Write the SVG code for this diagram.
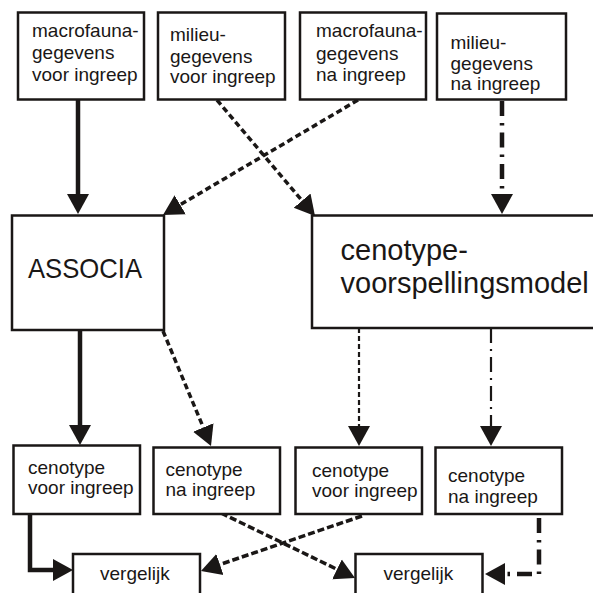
<svg xmlns="http://www.w3.org/2000/svg" width="593" height="593" viewBox="0 0 593 593">
<style>
.box{fill:#fff;stroke:#1a1716;stroke-width:2.5}
.t{font-family:"Liberation Sans",Arial,sans-serif;font-size:19px;fill:#1a1716}
.tb{font-family:"Liberation Sans",Arial,sans-serif;fill:#1a1716}
.c{fill:none;stroke:#1a1716}
.solid{stroke-width:4.5}
.dash{stroke-width:3.5;stroke-dasharray:6 3.5}
.dash2{stroke-width:3.5;stroke-dasharray:7 3}
.thindash{stroke-width:2.2;stroke-dasharray:5 3}
.dashdot{stroke-width:4.5;stroke-dasharray:15 7 2.5 7}
.thindashdot{stroke-width:2.2;stroke-dasharray:15 6 2 6}
</style>
<defs>
<marker id="ah" markerUnits="userSpaceOnUse" markerWidth="22" markerHeight="24" viewBox="0 -12 22 24" refX="0" refY="0" orient="auto">
<path d="M0,-11 L20,0 L0,11 z" fill="#1a1716"/>
</marker>
</defs>
<rect width="593" height="593" fill="#fff"/>

<g id="connectors">
<line class="c solid" x1="78" y1="100" x2="78" y2="194" marker-end="url(#ah)"/>
<line class="c dash" x1="358" y1="100" x2="180.2" y2="204.8" marker-end="url(#ah)"/>
<line class="c dash" x1="217" y1="100" x2="302.1" y2="200.7" marker-end="url(#ah)"/>
<line class="c dashdot" x1="502" y1="101" x2="502" y2="194" marker-end="url(#ah)"/>
<line class="c solid" x1="80" y1="330" x2="80" y2="425" marker-end="url(#ah)"/>
<line class="c dash" x1="163" y1="331" x2="203.3" y2="427.5" marker-end="url(#ah)"/>
<line class="c thindash" x1="359" y1="328" x2="359" y2="426" marker-end="url(#ah)"/>
<line class="c thindashdot" x1="491" y1="328" x2="491" y2="426" marker-end="url(#ah)"/>
<polyline class="c solid" points="30,514 30,570 53,570" marker-end="url(#ah)"/>
<line class="c dash2" x1="221" y1="513" x2="337" y2="569.3" marker-end="url(#ah)"/>
<line class="c dash2" x1="362" y1="516" x2="219.9" y2="564.5" marker-end="url(#ah)"/>
<polyline class="c dashdot" points="539,518 539,574 505,574" marker-end="url(#ah)"/>
</g>

<g id="macrofauna-voor">
<rect class="box" x="18" y="12.5" width="126" height="87"/>
<text class="t" x="32" y="36.5">macrofauna-</text>
<text class="t" x="32" y="59">gegevens</text>
<text class="t" x="32" y="81">voor ingreep</text>
</g>
<g id="milieu-voor">
<rect class="box" x="158" y="12.5" width="127" height="87"/>
<text class="t" x="170" y="41">milieu-</text>
<text class="t" x="170" y="62.5">gegevens</text>
<text class="t" x="170" y="83">voor ingreep</text>
</g>
<g id="macrofauna-na">
<rect class="box" x="300" y="12.5" width="126" height="87"/>
<text class="t" x="316" y="37">macrofauna-</text>
<text class="t" x="316" y="59.5">gegevens</text>
<text class="t" x="316" y="81">na ingreep</text>
</g>
<g id="milieu-na">
<rect class="box" x="437" y="13.5" width="129" height="86"/>
<text class="t" x="450.5" y="49">milieu-</text>
<text class="t" x="450.5" y="70">gegevens</text>
<text class="t" x="450.5" y="90">na ingreep</text>
</g>

<g id="associa">
<rect class="box" x="12" y="215.5" width="152" height="114.5"/>
<text class="tb" x="28" y="277.5" font-size="28" textLength="114" lengthAdjust="spacingAndGlyphs">ASSOCIA</text>
</g>
<g id="model">
<rect class="box" x="312" y="215.5" width="300" height="112.5"/>
<text class="tb" x="340.5" y="260" font-size="29">cenotype-</text>
<text class="tb" x="340.5" y="292.5" font-size="29">voorspellingsmodel</text>
</g>

<g id="ceno-voor-1">
<rect class="box" x="13.5" y="445.5" width="126.5" height="68.5"/>
<text class="t" x="28" y="474">cenotype</text>
<text class="t" x="28" y="494">voor ingreep</text>
</g>
<g id="ceno-na-1">
<rect class="box" x="153.5" y="447.5" width="126.5" height="66.5"/>
<text class="t" x="165.5" y="476">cenotype</text>
<text class="t" x="165.5" y="496">na ingreep</text>
</g>
<g id="ceno-voor-2">
<rect class="box" x="295.5" y="447.5" width="126.5" height="66.5"/>
<text class="t" x="312" y="477">cenotype</text>
<text class="t" x="312" y="497">voor ingreep</text>
</g>
<g id="ceno-na-2">
<rect class="box" x="435.5" y="447.5" width="126.5" height="66.5"/>
<text class="t" x="448" y="482">cenotype</text>
<text class="t" x="448" y="503">na ingreep</text>
</g>

<g id="vergelijk-1">
<rect class="box" x="73" y="554" width="127" height="60"/>
<text class="t" x="100" y="580">vergelijk</text>
</g>
<g id="vergelijk-2">
<rect class="box" x="355.5" y="554" width="127" height="60"/>
<text class="t" x="383.5" y="579.5">vergelijk</text>
</g>
</svg>
